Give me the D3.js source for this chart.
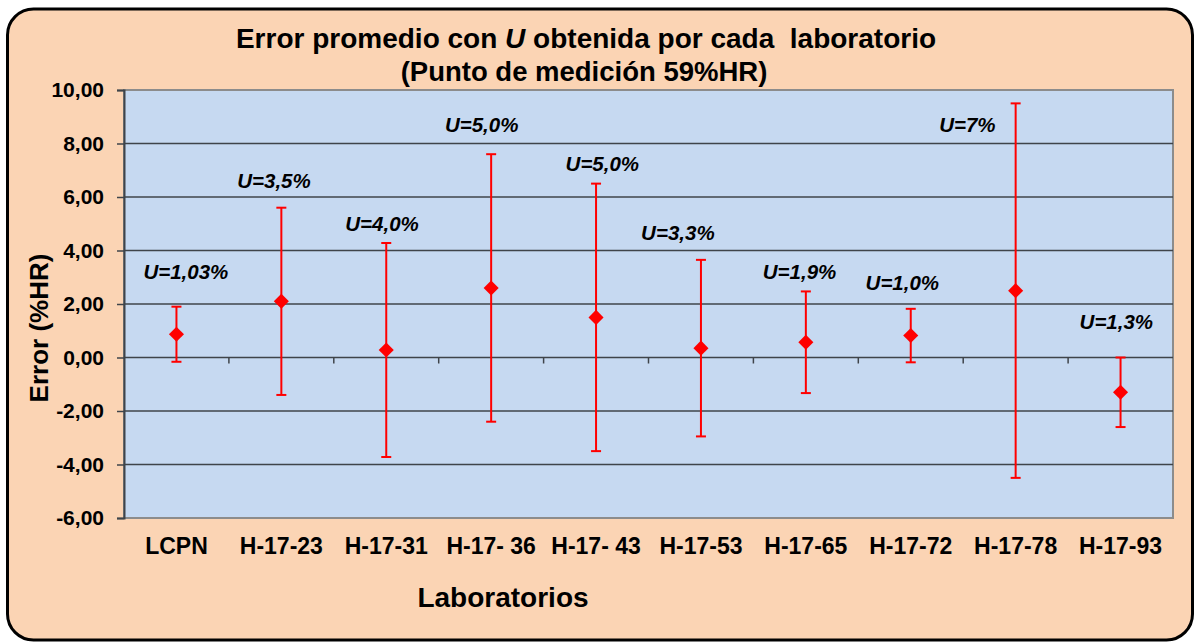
<!DOCTYPE html>
<html>
<head>
<meta charset="utf-8">
<script src="https://cdn.jsdelivr.net/npm/d3@7"></script>
<style>
  body { margin: 0; background: #fff; }
  text { font-family: 'Liberation Sans', Arial, sans-serif; font-weight: bold; fill: #000; }
</style>
</head>
<body>
<div id="graf"></div>
<script>
// Datos
laboratorios = ['LCPN', 'H-17-23', 'H-17-31', 'H-17- 36', 'H-17- 43', 'H-17-53', 'H-17-65', 'H-17-72', 'H-17-78', 'H-17-93']
errores = [0.87, 2.1, 0.28, 2.6, 1.5, 0.35, 0.57, 0.82, 2.5, -1.3]
incertidumbres = [1.03, 3.5, 4.0, 5.0, 5.0, 3.3, 1.9, 1.0, 7.0, 1.3]
etiquetas = ['U=1,03%', 'U=3,5%', 'U=4,0%', 'U=5,0%', 'U=5,0%', 'U=3,3%', 'U=1,9%', 'U=1,0%', 'U=7%', 'U=1,3%']
// ubicacion de las etiquetas (valor en el eje y, desplazamiento en fracciones de banda)
etiquetaY = [3.2, 6.6, 5.0, 8.7, 7.23, 4.65, 3.2, 2.79, 8.69, 1.36]
etiquetaDx = [0.09, -0.07, -0.04, -0.09, 0.06, -0.22, -0.06, -0.08, -0.46, -0.04]
yTicks = [-6, -4, -2, 0, 2, 4, 6, 8, 10]

// I. Configuracion
ancho_total = 1195
alto_total = 643
margins = { top: 90, left: 124, right: 22, bottom: 125 }
ancho = 1173 - margins.left
alto = alto_total - margins.top - margins.bottom

svg = d3.select('#graf').append('svg')
        .attr('width', ancho_total)
        .attr('height', alto_total)

// caja exterior
svg.append('rect')
   .attr('x', 7.5).attr('y', 9)
   .attr('width', 1185).attr('height', 631)
   .attr('rx', 26).attr('ry', 26)
   .attr('fill', '#FBD4B4')
   .attr('stroke', '#000')
   .attr('stroke-width', 3)

g = svg.append('g')
       .attr('transform', `translate(${ margins.left }, ${ margins.top })`)

x = d3.scaleBand()
      .domain(laboratorios)
      .range([0, ancho])
      .padding(0)

y = d3.scaleLinear()
      .domain([-6, 10])
      .range([alto, 0])

coma = d3.formatLocale({ decimal: ',', thousands: '.', grouping: [3], currency: ['', ''], minus: '-' })
fmt = coma.format('.2f')

// fondo del area de trazado
g.append('rect')
 .attr('width', ancho)
 .attr('height', alto)
 .attr('fill', '#C6D9F1')
 .attr('stroke', '#8c8c8c')
 .attr('stroke-width', 2)

// lineas de cuadricula
g.selectAll('.grid')
 .data(yTicks.filter(d => d != 10 && d != -6 && d != 0))
 .enter().append('line')
   .attr('x1', 0).attr('x2', ancho)
   .attr('y1', d => y(d)).attr('y2', d => y(d))
   .attr('stroke', '#3f444a')
   .attr('stroke-width', 1.5)

// eje y
yAxisCall = d3.axisLeft(y)
              .tickValues(yTicks)
              .tickFormat(fmt)
              .tickSize(7)
              .tickPadding(13)
yAxisGroup = g.append('g').call(yAxisCall)
yAxisGroup.select('.domain').attr('stroke', '#3f444a').attr('stroke-width', 2)
yAxisGroup.selectAll('.tick line').attr('stroke', '#3f444a').attr('stroke-width', 1.5)
yAxisGroup.selectAll('text')
          .style('font-size', '21px')
          .attr('fill', '#000')

// eje x sobre el cero
xAxisGroup = g.append('g').attr('transform', `translate(0, ${ y(0) })`)
xAxisGroup.append('line')
          .attr('x1', 0).attr('x2', ancho)
          .attr('stroke', '#3f444a').attr('stroke-width', 1.5)
xAxisGroup.selectAll('.marca')
          .data(laboratorios.slice(1))
          .enter().append('line')
            .attr('x1', d => x(d)).attr('x2', d => x(d))
            .attr('y1', 0).attr('y2', 6)
            .attr('stroke', '#3f444a').attr('stroke-width', 1.5)

// etiquetas de categorias
g.selectAll('.cat')
 .data(laboratorios)
 .enter().append('text')
   .attr('x', d => x(d) + x.bandwidth() / 2)
   .attr('y', alto + 36)
   .attr('text-anchor', 'middle')
   .style('font-size', '23px')
   .style('white-space', 'pre')
   .text(d => d)

// barras de error
datos = laboratorios.map((d, i) => ({ lab: d, e: errores[i], u: incertidumbres[i], t: etiquetas[i], ly: etiquetaY[i], dx: etiquetaDx[i] }))

barras = g.selectAll('.err')
          .data(datos)
          .enter().append('g')
          .attr('transform', d => `translate(${ x(d.lab) + x.bandwidth() / 2 }, 0)`)

barras.append('line')
      .attr('y1', d => y(d.e + d.u)).attr('y2', d => y(d.e - d.u))
      .attr('stroke', '#ff0000').attr('stroke-width', 2)
barras.append('line')
      .attr('x1', -5).attr('x2', 5)
      .attr('y1', d => y(d.e + d.u)).attr('y2', d => y(d.e + d.u))
      .attr('stroke', '#ff0000').attr('stroke-width', 2)
barras.append('line')
      .attr('x1', -5).attr('x2', 5)
      .attr('y1', d => y(d.e - d.u)).attr('y2', d => y(d.e - d.u))
      .attr('stroke', '#ff0000').attr('stroke-width', 2)
barras.append('path')
      .attr('d', d3.symbol().type(d3.symbolDiamond2).size(145))
      .attr('transform', d => `translate(0, ${ y(d.e) })`)
      .attr('fill', '#ff0000')

// etiquetas U
g.selectAll('.etq')
 .data(datos)
 .enter().append('text')
   .attr('x', d => x(d.lab) + x.bandwidth() * (0.5 + d.dx))
   .attr('y', d => y(d.ly))
   .attr('dy', '0.36em')
   .attr('text-anchor', 'middle')
   .style('font-size', '20.5px')
   .style('font-style', 'italic')
   .text(d => d.t)

// titulo
titulo = svg.append('text')
            .attr('x', 586)
            .attr('y', 48)
            .attr('text-anchor', 'middle')
            .style('font-size', '28px')
            .style('white-space', 'pre')
titulo.append('tspan').text('Error promedio con ')
titulo.append('tspan').style('font-style', 'italic').text('U')
titulo.append('tspan').text(' obtenida por cada  laboratorio')

svg.append('text')
   .attr('x', 584)
   .attr('y', 81)
   .attr('text-anchor', 'middle')
   .style('font-size', '27.5px')
   .text('(Punto de medición 59%HR)')

// titulos de ejes
svg.append('text')
   .attr('transform', 'translate(48, 328) rotate(-90)')
   .attr('text-anchor', 'middle')
   .style('font-size', '26px')
   .text('Error (%HR)')

svg.append('text')
   .attr('x', 503)
   .attr('y', 607)
   .attr('text-anchor', 'middle')
   .style('font-size', '28px')
   .text('Laboratorios')
</script>
</body>
</html>
